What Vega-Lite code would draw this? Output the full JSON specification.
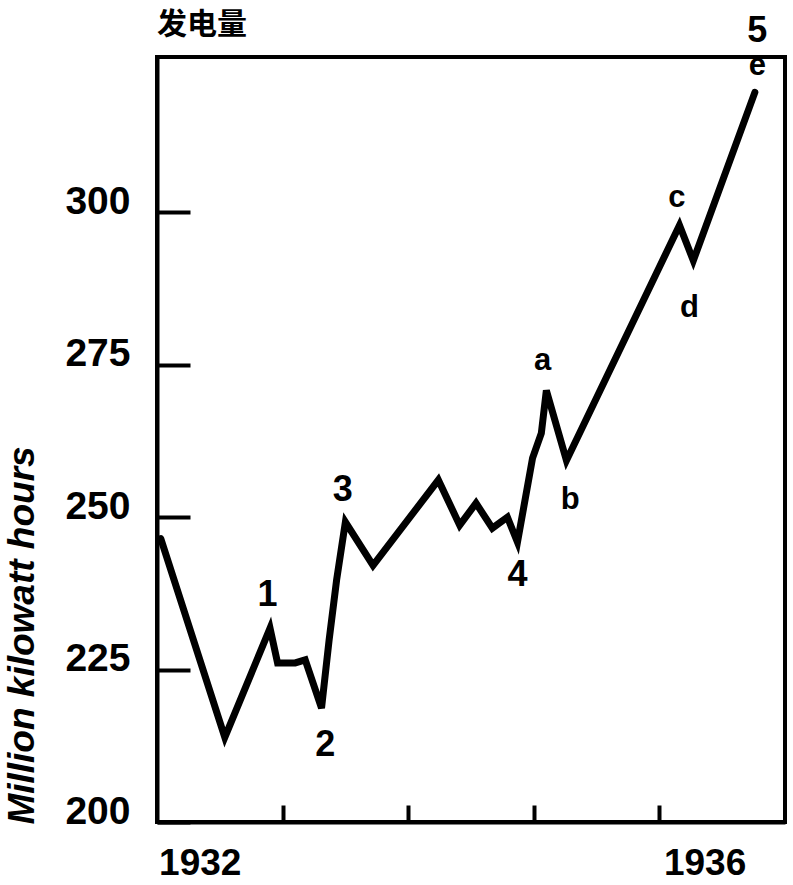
{
  "$schema": "https://vega.github.io/schema/vega-lite/v6.json",
  "width": 628,
  "height": 765,
  "autosize": {"type": "none"},
  "padding": {"left": 157, "top": 57, "right": 8, "bottom": 63},
  "background": "white",
  "config": {"view": {"stroke": "black", "strokeWidth": 4}, "font": "Liberation Sans"},
  "title": {"text": "发电量", "anchor": "start", "frame": "group", "font": "Noto Sans CJK SC", "fontSize": 30, "fontWeight": "bold", "color": "black", "offset": -57, "baseline": "bottom"},
  "datasets": {
    "series": [
      {"t": 1932.03, "v": 246.5},
      {"t": 1932.54, "v": 213.9},
      {"t": 1932.90, "v": 231.8},
      {"t": 1932.96, "v": 226.1},
      {"t": 1933.10, "v": 226.1},
      {"t": 1933.18, "v": 226.6},
      {"t": 1933.31, "v": 218.7},
      {"t": 1933.37, "v": 229.8},
      {"t": 1933.43, "v": 239.7},
      {"t": 1933.50, "v": 249.2},
      {"t": 1933.72, "v": 242.1},
      {"t": 1934.24, "v": 256.1},
      {"t": 1934.41, "v": 248.7},
      {"t": 1934.54, "v": 252.3},
      {"t": 1934.67, "v": 248.2},
      {"t": 1934.79, "v": 250.0},
      {"t": 1934.87, "v": 245.9},
      {"t": 1934.99, "v": 259.7},
      {"t": 1935.06, "v": 263.8},
      {"t": 1935.10, "v": 270.8},
      {"t": 1935.26, "v": 259.3},
      {"t": 1936.16, "v": 297.9},
      {"t": 1936.27, "v": 292.1},
      {"t": 1936.76, "v": 319.7}
    ],
    "labels": [
      {"t": 1932.88, "v": 237.2, "label": "1", "kind": "wave"},
      {"t": 1933.34, "v": 212.6, "label": "2", "kind": "wave"},
      {"t": 1933.48, "v": 254.4, "label": "3", "kind": "wave"},
      {"t": 1934.87, "v": 240.5, "label": "4", "kind": "wave"},
      {"t": 1936.78, "v": 329.8, "label": "5", "kind": "wave"},
      {"t": 1935.07, "v": 275.7, "label": "a", "kind": "sub"},
      {"t": 1935.29, "v": 252.8, "label": "b", "kind": "sub"},
      {"t": 1936.14, "v": 302.3, "label": "c", "kind": "sub"},
      {"t": 1936.24, "v": 284.3, "label": "d", "kind": "sub"},
      {"t": 1936.78, "v": 324.1, "label": "e", "kind": "sub"}
    ]
  },
  "layer": [
    {
      "data": {"name": "series"},
      "mark": {"type": "line", "color": "black", "strokeWidth": 7, "strokeJoin": "miter", "strokeCap": "round"},
      "encoding": {
        "x": {
          "field": "t", "type": "quantitative",
          "scale": {"domain": [1932, 1937], "nice": false, "zero": false},
          "axis": {
            "values": [1932.34, 1933, 1934, 1935, 1936, 1936.36],
            "labelExpr": "datum.value % 1 == 0 ? '' : '' + floor(datum.value)",
            "tickOpacity": {"condition": {"test": "datum.value % 1 == 0", "value": 1}, "value": 0},
            "tickSize": -17, "tickWidth": 4, "tickColor": "black",
            "domainColor": "black", "domainWidth": 4,
            "grid": false, "title": null,
            "labelFont": "Liberation Sans", "labelFontWeight": "bold", "labelFontSize": 37,
            "labelColor": "black", "labelPadding": 40, "labelBaseline": "top", "labelFlush": false
          }
        },
        "y": {
          "field": "v", "type": "quantitative",
          "scale": {"domain": [200, 325.5], "nice": false, "zero": false},
          "axis": {
            "values": [200, 225, 250, 275, 300],
            "tickSize": -33, "tickWidth": 4, "tickColor": "black",
            "domainColor": "black", "domainWidth": 4,
            "grid": false,
            "labelFont": "Liberation Sans", "labelFontWeight": "bold", "labelFontSize": 39,
            "labelColor": "black", "labelPadding": 60, "labelOffset": -11, "labelFlush": false,
            "title": "Million kilowatt hours",
            "titleFont": "Liberation Sans", "titleFontStyle": "italic", "titleFontWeight": "bold",
            "titleFontSize": 37, "titleColor": "black", "titleAngle": -90,
            "titleAlign": "center", "titleBaseline": "middle",
            "titleX": -135, "titleY": 578
          }
        }
      }
    },
    {
      "data": {"name": "labels"},
      "transform": [{"filter": "datum.kind == 'wave'"}],
      "mark": {"type": "text", "color": "black", "font": "Liberation Sans", "fontWeight": "bold", "fontSize": 36, "align": "center", "baseline": "middle"},
      "encoding": {
        "x": {"field": "t", "type": "quantitative"},
        "y": {"field": "v", "type": "quantitative"},
        "text": {"field": "label"}
      }
    },
    {
      "data": {"name": "labels"},
      "transform": [{"filter": "datum.kind == 'sub'"}],
      "mark": {"type": "text", "color": "black", "font": "Liberation Sans", "fontWeight": "bold", "fontSize": 31, "align": "center", "baseline": "middle"},
      "encoding": {
        "x": {"field": "t", "type": "quantitative"},
        "y": {"field": "v", "type": "quantitative"},
        "text": {"field": "label"}
      }
    }
  ]
}
